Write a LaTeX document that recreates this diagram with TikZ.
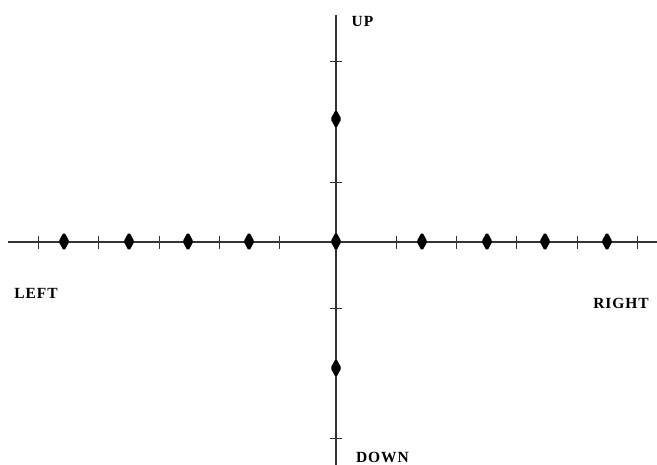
\documentclass[tikz,border=0pt]{standalone}
\usepackage{fontspec}
\setmainfont{Liberation Serif}
\usetikzlibrary{shapes.geometric}
\begin{document}
\begin{tikzpicture}[x=1pt,y=-1pt,
  axis/.style={line width=1.1pt,draw=black!80},
  tickmark/.style={line width=0.9pt,draw=black!80},
  dot/.style={diamond,fill=black,draw=black,line width=1pt,rounded corners=1.5pt,inner sep=0pt,minimum width=10pt,minimum height=18pt},
  lbl/.style={font=\fontsize{15.5}{15.5}\selectfont\bfseries\addfontfeature{LetterSpace=6},inner sep=0pt,anchor=center}]
\useasboundingbox (0,0) rectangle (657,465);
\coordinate (L) at (8,242);
\coordinate (R) at (657,242);
\coordinate (T) at (336,15);
\coordinate (B) at (336,465);
\draw[axis] (L) -- (R);
\draw[axis] (T) -- (B);
\foreach \x in {38,98,159,219,279,396,456,516,577,637}
  \draw[tickmark] (\x,236) -- (\x,249);
\foreach \y in {61,182,308,438}
  \draw[tickmark] (330,\y) -- (342,\y);
\foreach \x/\n in {64/a,129/b,188/c,249/d,336/e,422/f,487/g,545/h,607/i}
  \node[dot] (p\n) at (\x,241.5) {};
\node[dot] (pu) at (336,119) {};
\node[dot] (pd) at (336,368) {};
\node[lbl] (up) at (362.5,21.5) {UP};
\node[lbl] (down) at (382.5,457.5) {DOWN};
\node[lbl] (left) at (36,293) {LEFT};
\node[lbl] (right) at (621,303.5) {RIGHT};
\end{tikzpicture}
\end{document}
